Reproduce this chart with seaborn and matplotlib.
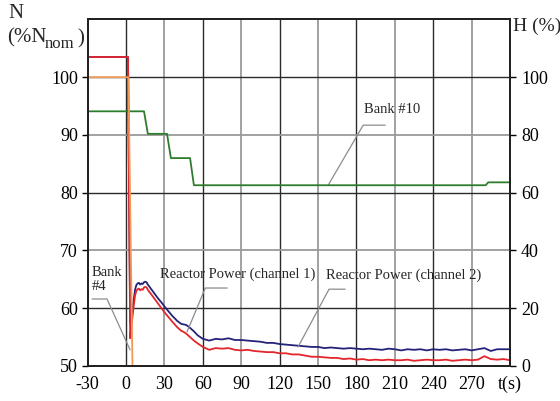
import numpy as np
import pandas as pd
import matplotlib
matplotlib.use("Agg")
import matplotlib.pyplot as plt
import seaborn as sns

# ---------------- data ----------------
t_early = [-30, 1.5, 3.2, 4, 5, 6, 7, 8, 9, 10, 11, 12, 13, 14, 15, 16, 17, 18, 20, 22,
           25, 28, 30, 33, 36, 40, 43, 45, 47, 50, 53, 56, 58]
blue_early = [103.5, 103.5, 57.5, 57.8, 59.5, 61.5, 63.2, 64.0, 64.3, 64.4, 64.1, 64.3, 64.2,
              64.5, 64.6, 64.5, 64.1, 63.8, 63.2, 62.6, 61.7, 60.9, 60.3, 59.5, 58.7, 57.8,
              57.3, 57.2, 57.1, 56.6, 56.0, 55.3, 55.0]
t_red_early = [-30, 1.5, 3.2, 4, 5, 6, 7, 8, 9, 10, 11, 12, 13, 14, 15, 16, 17, 18, 20, 22,
               25, 28, 30, 33, 36, 40, 43, 45, 47, 50, 53, 56, 58]
red_early = [103.5, 103.5, 54.8, 56.5, 58.5, 60.5, 62.2, 63.0, 63.3, 63.4, 63.1, 63.3, 63.2,
             63.6, 63.7, 63.6, 63.2, 62.9, 62.3, 61.7, 60.8, 59.9, 59.3, 58.5, 57.7, 56.7,
             56.1, 55.9, 55.6, 55.0, 54.4, 53.9, 53.6]
t_late = [60, 65, 70, 75, 80, 85, 90, 95, 100, 105, 110, 115, 120, 125, 130, 135, 140, 145,
          150, 155, 160, 165, 170, 175, 180, 185, 190, 195, 200, 205, 210, 215, 220, 225,
          230, 235, 240, 245, 250, 255, 260, 265, 270, 275, 280, 285, 290, 295, 300]
blue_late = [54.7, 54.4, 54.7, 54.6, 54.8, 54.5, 54.5, 54.4, 54.3, 54.2, 54.0, 54.0, 53.8,
             53.7, 53.6, 53.5, 53.4, 53.3, 53.3, 53.1, 53.2, 53.1, 53.0, 53.1, 53.0, 52.9,
             53.0, 52.9, 52.8, 53.0, 52.9, 52.7, 52.9, 52.8, 52.9, 52.7, 52.9, 52.8, 52.9,
             52.7, 52.8, 52.9, 52.7, 52.9, 53.1, 52.6, 52.9, 52.9, 52.9]
red_late = [53.3, 52.8, 53.1, 53.0, 53.1, 52.8, 52.7, 52.8, 52.6, 52.5, 52.4, 52.4, 52.2,
            52.2, 52.0, 52.0, 51.8, 51.6, 51.6, 51.5, 51.4, 51.4, 51.2, 51.3, 51.1, 51.2,
            51.0, 51.1, 51.0, 51.1, 51.0, 51.0, 51.1, 50.9, 51.0, 51.1, 51.0, 51.0, 51.1,
            50.9, 51.0, 51.1, 51.0, 51.1, 51.7, 51.2, 51.1, 51.2, 51.0]

t_bank10 = [-30, 14, 17, 32, 35, 50, 53, 281, 283, 300]
h_bank10 = [88.2, 88.2, 80.4, 80.4, 72.0, 72.0, 62.6, 62.6, 63.6, 63.6]
t_bank4 = [-30, 1.8, 5.0, 300]
h_bank4 = [100, 100, 0, 0]

x_ticks = [-30, 0, 30, 60, 90, 120, 150, 180, 210, 240, 270, 300]
x_labels = ["-30", "0", "30", "60", "90", "120", "150", "180", "210", "240", "270", "t(s)"]
n_ticks = [50, 60, 70, 80, 90, 100]
h_ticks = [0, 20, 40, 60, 80, 100]

# ---------------- frames ----------------
power = pd.concat([
    pd.DataFrame({"t": t_early + t_late, "N": blue_early + blue_late, "ch": "channel 2"}),
    pd.DataFrame({"t": t_red_early + t_late, "N": red_early + red_late, "ch": "channel 1"}),
], ignore_index=True)
banks = pd.concat([
    pd.DataFrame({"t": t_bank10, "H": h_bank10, "bank": "Bank #10"}),
    pd.DataFrame({"t": t_bank4, "H": h_bank4, "bank": "Bank #4"}),
], ignore_index=True)

# ---------------- style ----------------
sns.set_theme(style="white")
plt.rcParams["font.family"] = ["Liberation Serif", "DejaVu Serif"]

fig = plt.figure(figsize=(5.6, 4.01), dpi=100)
ax = fig.add_axes([0.1566, 0.0873, 0.7541, 0.8641])
ax2 = ax.twinx()

ax.set_xlim(-30, 300)
ax.set_ylim(50, 110)
ax2.set_ylim(0, 120)

# grid: dark majors, gray minors
major_x = [t for t in x_ticks if t % 60 == 0]
minor_x = [t for t in x_ticks if t % 60 != 0]
ax.set_xticks(major_x, [l for t, l in zip(x_ticks, x_labels) if t % 60 == 0])
ax.set_xticks(minor_x, [l for t, l in zip(x_ticks, x_labels) if t % 60 != 0], minor=True)
major_y = [v for v in n_ticks if v % 20 == 0 or v == 50]
minor_y = [v for v in n_ticks if v not in major_y]
ax.set_yticks(major_y)
ax.set_yticks(minor_y, [str(v) for v in minor_y], minor=True)
ax.grid(which="major", color="#2b2b2b", lw=1.0)
ax.grid(which="minor", color="#9a9a9a", lw=1.3)
ax.set_axisbelow(True)

sns.lineplot(data=power, x="t", y="N", hue="ch",
             palette={"channel 2": "#23237a", "channel 1": "#e3262b"},
             hue_order=["channel 2", "channel 1"], lw=1.3, ax=ax, legend=False,
             estimator=None, sort=False)
sns.lineplot(data=banks, x="t", y="H", hue="bank",
             palette={"Bank #10": "#2e7d2e", "Bank #4": "#f39a55"},
             lw=1.3, ax=ax2, legend=False, estimator=None, sort=False)

ax2.set_yticks(h_ticks)
ax2.set_ylim(0, 120)
ax.set_xlabel("")
ax.set_ylabel("")
ax2.set_ylabel("")

for a in (ax, ax2):
    for s in a.spines.values():
        s.set_color("#222222")
        s.set_linewidth(1.4)
ax.tick_params(which="both", axis="both", labelsize=13, colors="black",
               length=4, width=1, direction="out", pad=3)
ax.tick_params(which="both", axis="x", length=0, pad=7)
ax2.tick_params(axis="y", labelsize=13, colors="black", length=4, width=1, pad=4)

# axis titles
fig.text(8 / 560, 1 - 13 / 401, "N", fontsize=15, va="center", ha="left")
fig.text(7 / 560, 1 - 38 / 401, "(%N", fontsize=15, va="center", ha="left")
fig.text(45 / 560, 1 - 44 / 401, "nom", fontsize=12, va="center", ha="left")
fig.text(77 / 560, 1 - 39 / 401, ")", fontsize=15, va="center", ha="left")
fig.text(513 / 560, 1 - 26 / 401, "H (%)", fontsize=14, va="center", ha="left")

# annotations with leader lines
lead = dict(color="#8c8c8c", lw=0.9)
ax.plot([-26.6, -14.9, 3.1], [61.6, 61.6, 52.8], **lead)
ax.text(-26.6, 65.0, "Bank\n#4", fontsize=10.5, va="center", ha="left", linespacing=1.1)
ax.plot([79.1, 61.9, 47.6], [63.5, 63.5, 55.9], **lead)
ax.text(26.5, 65.9, "Reactor Power (channel 1)", fontsize=10.5, va="center", ha="left")
ax.plot([171.2, 158.6, 134.4], [63.3, 63.3, 53.3], **lead)
ax.text(156.3, 65.7, "Reactor Power (channel 2)", fontsize=10.5, va="center", ha="left")
ax.plot([202.5, 185.3, 157.9], [91.7, 91.7, 81.3], **lead)
ax.text(186.0, 94.5, "Bank #10", fontsize=10.5, va="center", ha="left")

fig.savefig("out.png", dpi=100)
